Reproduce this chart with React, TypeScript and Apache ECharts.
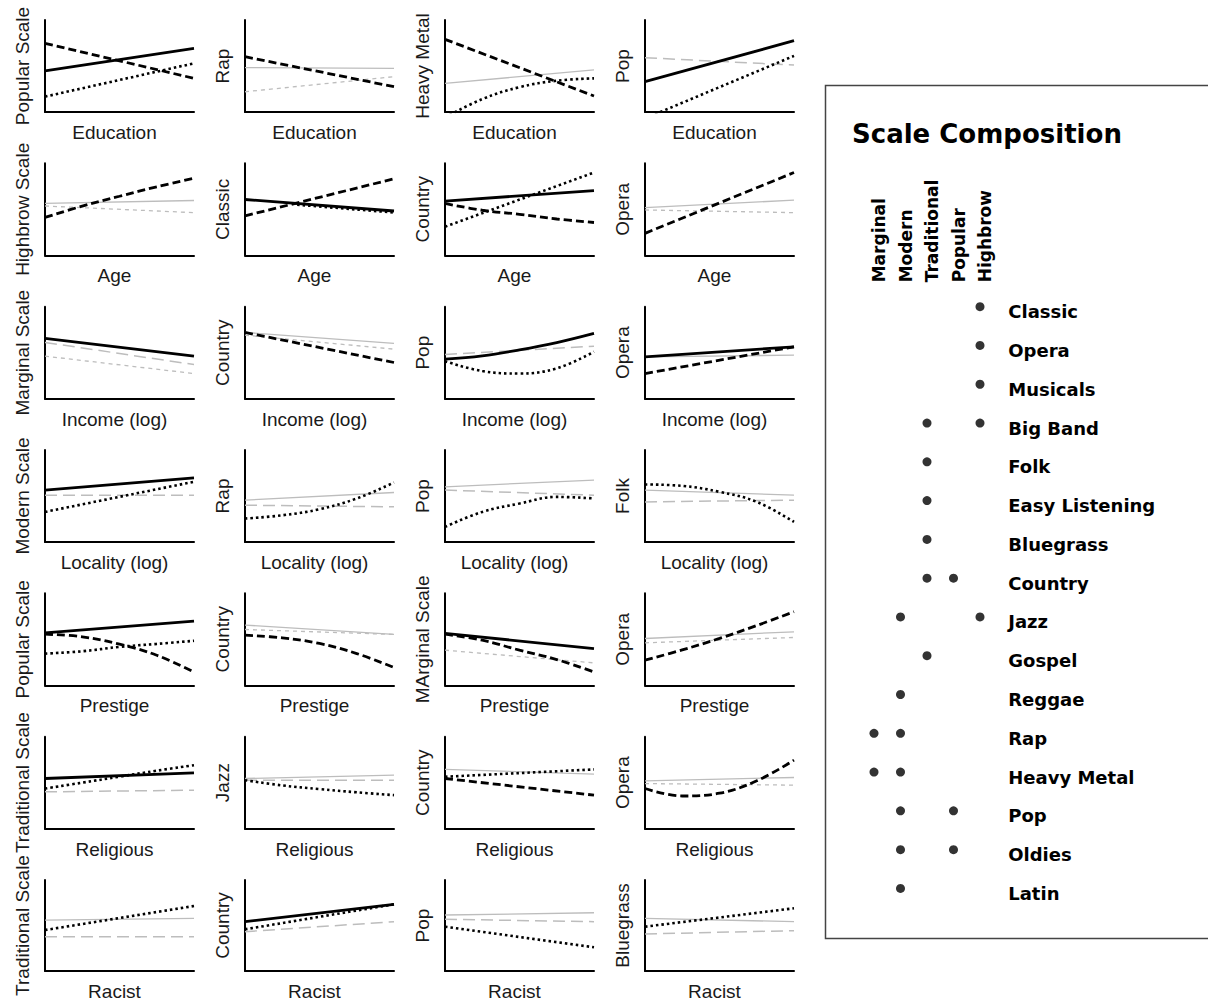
import React, { useEffect, useRef } from "react";
import * as echarts from "echarts";

// ---------- Panel labels ----------
const xLabels = ["Education", "Age", "Income (log)", "Locality (log)", "Prestige", "Religious", "Racist"];
const yLabels = [
  "Popular Scale", "Rap", "Heavy Metal", "Pop",
  "Highbrow Scale", "Classic", "Country", "Opera",
  "Marginal Scale", "Country", "Pop", "Opera",
  "Modern Scale", "Rap", "Pop", "Folk",
  "Popular Scale", "Country", "MArginal Scale", "Opera",
  "Traditional Scale", "Jazz", "Country", "Opera",
  "Traditional Scale", "Country", "Pop", "Bluegrass",
];

// x positions (share of the predictor's range)
const X2 = [0, 1];
const X5 = [0, 0.25, 0.5, 0.75, 1];

// ---------- Row 1: Education ----------
const eduPopularSolid = [44.6, 69.2];
const eduPopularDashed = [74.7, 36.6];
const eduPopularDotted = [16.7, 52.9];
const eduRapGraySolid = [48.2, 47.5];
const eduRapGrayShort = [22, 38.4];
const eduRapDashed = [60.1, 27.5];
const eduMetalGraySolid = [31.2, 45.7];
const eduMetalDashed = [79, 17.4];
const eduMetalDotted = [-6, 14, 27, 34, 36.6];
const eduPopGrayLong = [59, 51];
const eduPopSolid = [33, 77.5];
const eduPopDotted = [-7, 61];

// ---------- Row 2: Age ----------
const ageHighGraySolid = [56.4, 59.6];
const ageHighGrayShort = [53.6, 46.4];
const ageHighDashed = [41.2, 53.5, 64.2, 74.5, 83.7];
const ageClassicSolid = [60.7, 48.2];
const ageClassicDashed = [42.9, 83.2];
const ageClassicDotted = [55, 46.5];
const ageClassicDottedX = [0.35, 1];
const ageCountrySolid = [58.9, 70.4];
const ageCountryDashed = [56.4, 49, 44.6, 39.5, 35.7];
const ageCountryDotted = [31.1, 90];
const ageOperaGraySolid = [51.8, 60];
const ageOperaGrayShort = [49.3, 46.4];
const ageOperaDashed = [23.9, 90];

// ---------- Row 3: Income (log) ----------
const incMargGrayLong = [61.1, 37.1];
const incMargGrayShort = [46.2, 27.3];
const incMargSolid = [65.5, 46.2];
const incCountryGraySolid = [72, 60];
const incCountryGrayShort = [69, 53.8];
const incCountryDashed = [72, 39.3];
const incPopGrayLong = [48, 57.1];
const incPopSolid = [43, 46.5, 53, 61, 71];
const incPopDotted = [40.7, 30, 27.3, 33, 51];
const incOperaGraySolid = [45.5, 47.3];
const incOperaSolid = [45.5, 56.4];
const incOperaDashed = [27.3, 56.4];

// ---------- Row 4: Locality (log) ----------
const locModGrayLong = [50.9, 50.9];
const locModSolid = [56.4, 69.8];
const locModDotted = [32.7, 65.5];
const locRapGraySolid = [45.5, 53.8];
const locRapGrayLong = [40, 38.2];
const locRapDotted = [25.5, 29, 35.6, 47.3, 64.7];
const locPopGraySolid = [60, 67.3];
const locPopGrayLong = [56.4, 50.9];
const locPopDotted = [16.4, 32.7, 41.8, 49, 47.3];
const locFolkGraySolid = [56.4, 50.9];
const locFolkGrayLong = [43.6, 45.5];
const locFolkDotted = [62.5, 61, 54.5, 43.6, 21.8];

// ---------- Row 5: Prestige ----------
const prePopSolid = [57.1, 69.8];
const prePopDashed = [55.6, 52.7, 44.7, 32.7, 14.5];
const prePopDotted = [34.5, 37, 41.8, 45, 48.4];
const preCountryGraySolid = [65.5, 55.3];
const preCountryGrayShort = [60.7, 55.3];
const preCountryDashed = [54.5, 51.6, 45.5, 34.5, 19.3];
const preMargGrayShort = [38.2, 24.4];
const preMargSolid = [56.4, 40];
const preMargDashed = [55.6, 49, 38.2, 28, 14.5];
const preOperaGraySolid = [50.9, 58.2];
const preOperaGrayShort = [46.2, 52];
const preOperaDashed = [27.3, 38.5, 51, 65, 80];

// ---------- Row 6: Religious ----------
const relTradGrayLong = [40, 41.8];
const relTradSolid = [54.5, 60.7];
const relTradDotted = [43.6, 50, 56.5, 63, 69];
const relJazzGraySolid = [54.5, 58.2];
const relJazzGrayLong = [52.7, 52.7];
const relJazzDotted = [52.7, 47, 43, 39.5, 36.4];
const relCountryGraySolid = [64.4, 59.3];
const relCountryDotted = [56.4, 64.4];
const relCountryDashed = [54.5, 36.4];
const relOperaGraySolid = [52, 55.6];
const relOperaGrayShort = [49, 47.3];
const relOperaDashed = [43.6, 35.5, 38.5, 52, 74.5];

// ---------- Row 7: Racist ----------
const racTradGraySolid = [56, 57.9];
const racTradGrayLong = [37.7, 37.7];
const racTradDotted = [45, 71.4];
const racCountryGrayLong = [43.2, 54.2];
const racCountrySolid = [54.2, 73.3];
const racCountryDotted = [45.8, 73.3];
const racPopGraySolid = [61.5, 64];
const racPopGrayLong = [56.8, 54.2];
const racPopDotted = [48.7, 26];
const racBlueGraySolid = [57.9, 54.2];
const racBlueGrayLong = [40.7, 44.3];
const racBlueDotted = [48.7, 68.9];

// ---------- Scale composition ----------
const scaleNames = ["Marginal", "Modern", "Traditional", "Popular", "Highbrow"];
const genres = [
  "Classic", "Opera", "Musicals", "Big Band", "Folk", "Easy Listening", "Bluegrass", "Country",
  "Jazz", "Gospel", "Reggae", "Rap", "Heavy Metal", "Pop", "Oldies", "Latin",
];
// indices into scaleNames, one list per genre
const genreScales = [
  [4], [4], [4], [2, 4], [2], [2], [2], [2, 3],
  [1, 4], [2], [1], [0, 1], [0, 1], [1, 3], [1, 3], [1],
];

type Line = [string, number[], number[]?];
const panelLines: Line[][] = [
  [["solid", eduPopularSolid], ["dashed", eduPopularDashed], ["dotted", eduPopularDotted]],
  [["gSolid", eduRapGraySolid], ["gShort", eduRapGrayShort], ["dashed", eduRapDashed]],
  [["gSolid", eduMetalGraySolid], ["dashed", eduMetalDashed], ["dotted", eduMetalDotted]],
  [["gLong", eduPopGrayLong], ["solid", eduPopSolid], ["dotted", eduPopDotted]],

  [["gSolid", ageHighGraySolid], ["gShort", ageHighGrayShort], ["dashed", ageHighDashed]],
  [["solid", ageClassicSolid], ["dashed", ageClassicDashed], ["dotted", ageClassicDotted, ageClassicDottedX]],
  [["solid", ageCountrySolid], ["dashed", ageCountryDashed], ["dotted", ageCountryDotted]],
  [["gSolid", ageOperaGraySolid], ["gShort", ageOperaGrayShort], ["dashed", ageOperaDashed]],

  [["gLong", incMargGrayLong], ["gShort", incMargGrayShort], ["solid", incMargSolid]],
  [["gSolid", incCountryGraySolid], ["gShort", incCountryGrayShort], ["dashed", incCountryDashed]],
  [["gLong", incPopGrayLong], ["solid", incPopSolid], ["dotted", incPopDotted]],
  [["gSolid", incOperaGraySolid], ["solid", incOperaSolid], ["dashed", incOperaDashed]],

  [["gLong", locModGrayLong], ["solid", locModSolid], ["dotted", locModDotted]],
  [["gSolid", locRapGraySolid], ["gLong", locRapGrayLong], ["dotted", locRapDotted]],
  [["gSolid", locPopGraySolid], ["gLong", locPopGrayLong], ["dotted", locPopDotted]],
  [["gSolid", locFolkGraySolid], ["gLong", locFolkGrayLong], ["dotted", locFolkDotted]],

  [["solid", prePopSolid], ["dashed", prePopDashed], ["dotted", prePopDotted]],
  [["gSolid", preCountryGraySolid], ["gShort", preCountryGrayShort], ["dashed", preCountryDashed]],
  [["gShort", preMargGrayShort], ["solid", preMargSolid], ["dashed", preMargDashed]],
  [["gSolid", preOperaGraySolid], ["gShort", preOperaGrayShort], ["dashed", preOperaDashed]],

  [["gLong", relTradGrayLong], ["solid", relTradSolid], ["dotted", relTradDotted]],
  [["gSolid", relJazzGraySolid], ["gLong", relJazzGrayLong], ["dotted", relJazzDotted]],
  [["gSolid", relCountryGraySolid], ["dotted", relCountryDotted], ["dashed", relCountryDashed]],
  [["gSolid", relOperaGraySolid], ["gShort", relOperaGrayShort], ["dashed", relOperaDashed]],

  [["gSolid", racTradGraySolid], ["gLong", racTradGrayLong], ["dotted", racTradDotted]],
  [["gLong", racCountryGrayLong], ["solid", racCountrySolid], ["dotted", racCountryDotted]],
  [["gSolid", racPopGraySolid], ["gLong", racPopGrayLong], ["dotted", racPopDotted]],
  [["gSolid", racBlueGraySolid], ["gLong", racBlueGrayLong], ["dotted", racBlueDotted]],
];

const GRAY = "#bdbdbd";
const lineStyles: Record<string, any> = {
  solid: { color: "#000", width: 2.8, type: "solid" },
  dashed: { color: "#000", width: 2.8, type: [8, 4] },
  dotted: { color: "#000", width: 2.6, type: [2.5, 3] },
  gSolid: { color: GRAY, width: 1.3, type: "solid" },
  gShort: { color: GRAY, width: 1.3, type: [4, 4] },
  gLong: { color: GRAY, width: 1.5, type: [12, 6] },
};

const AXIS_FONT = { fontFamily: "Liberation Sans, Arial, sans-serif", fontSize: 19, color: "#1a1a1a" };
const LEG_FONT = "DejaVu Sans, Verdana, sans-serif";

function buildOption() {
  const grid: any[] = [];
  const xAxis: any[] = [];
  const yAxis: any[] = [];
  const series: any[] = [];

  panelLines.forEach((lines, p) => {
    const r = Math.floor(p / 4);
    const c = p % 4;
    grid.push({ left: 45 + c * 200, top: 20 + r * 143.33, width: 149, height: 92 });
    xAxis.push({
      gridIndex: p, type: "value", min: 0, max: 1,
      axisLine: { show: true, onZero: false, lineStyle: { color: "#000", width: 2 } },
      axisTick: { show: false }, axisLabel: { show: false }, splitLine: { show: false },
      name: xLabels[r], nameLocation: "middle", nameGap: 11,
      nameTextStyle: { ...AXIS_FONT, padding: [0, 10, 0, 0] },
    });
    yAxis.push({
      gridIndex: p, type: "value", min: 0, max: 100,
      axisLine: { show: true, onZero: false, lineStyle: { color: "#000", width: 2 } },
      axisTick: { show: false }, axisLabel: { show: false }, splitLine: { show: false },
      name: yLabels[p], nameLocation: "middle", nameRotate: 90, nameGap: 13, nameTextStyle: AXIS_FONT,
    });
    lines.forEach(([kind, ys, customX]) => {
      const xs = customX || (ys.length === 2 ? X2 : X5);
      series.push({
        type: "line", xAxisIndex: p, yAxisIndex: p,
        data: ys.map((y, i) => [xs[i], y]),
        showSymbol: false, symbol: "none", smooth: ys.length > 2 ? 0.4 : false,
        clip: true, silent: true,
        lineStyle: { ...lineStyles[kind], cap: "butt" },
        z: kind.startsWith("g") ? 2 : 3,
      });
    });
  });

  // Scale composition grid
  const L = panelLines.length;
  grid.push({ left: 860.75, top: 287.3, width: 132.5, height: 620.5 });
  xAxis.push({
    gridIndex: L, type: "category", data: scaleNames, position: "top",
    axisLine: { show: false }, axisTick: { show: false }, splitLine: { show: false },
    axisLabel: {
      rotate: -90, margin: 5, interval: 0, align: "left", verticalAlign: "top", lineHeight: 10,
      fontFamily: LEG_FONT, fontWeight: "bold", fontSize: 17, color: "#000",
    },
  });
  yAxis.push({
    gridIndex: L, type: "category", data: genres, inverse: true, position: "right",
    axisLine: { show: false }, axisTick: { show: false }, splitLine: { show: false },
    axisLabel: {
      margin: 15, align: "left", verticalAlign: "top", lineHeight: 10, interval: 0,
      fontFamily: LEG_FONT, fontWeight: "bold", fontSize: 18, color: "#000",
    },
  });
  const dots: number[][] = [];
  genreScales.forEach((list, g) => list.forEach((s) => dots.push([s, g])));
  series.push({
    type: "scatter", xAxisIndex: L, yAxisIndex: L, data: dots,
    symbol: "circle", symbolSize: 9, itemStyle: { color: "#000" }, silent: true,
  });

  return {
    animation: false,
    backgroundColor: "#fff",
    grid, xAxis, yAxis, series,
    graphic: [
      {
        type: "rect", shape: { x: 825.5, y: 85.5, width: 500, height: 853 },
        style: { fill: "none", stroke: "#444", lineWidth: 1.5 }, silent: true,
      },
      {
        type: "text", x: 852, y: 134,
        style: {
          text: "Scale Composition", fill: "#000",
          font: `bold 26px ${LEG_FONT}`, verticalAlign: "middle", align: "left",
        },
      },
    ],
  };
}

export default function App() {
  const ref = useRef<HTMLDivElement>(null);
  useEffect(() => {
    if (!ref.current) return;
    const chart = echarts.init(ref.current, null, { renderer: "svg" });
    chart.setOption(buildOption() as any);
    return () => chart.dispose();
  }, []);
  return (
    <div
      ref={ref}
      style={{ position: "fixed", left: 0, top: 0, width: 1208, height: 1002, background: "#fff" }}
    />
  );
}
